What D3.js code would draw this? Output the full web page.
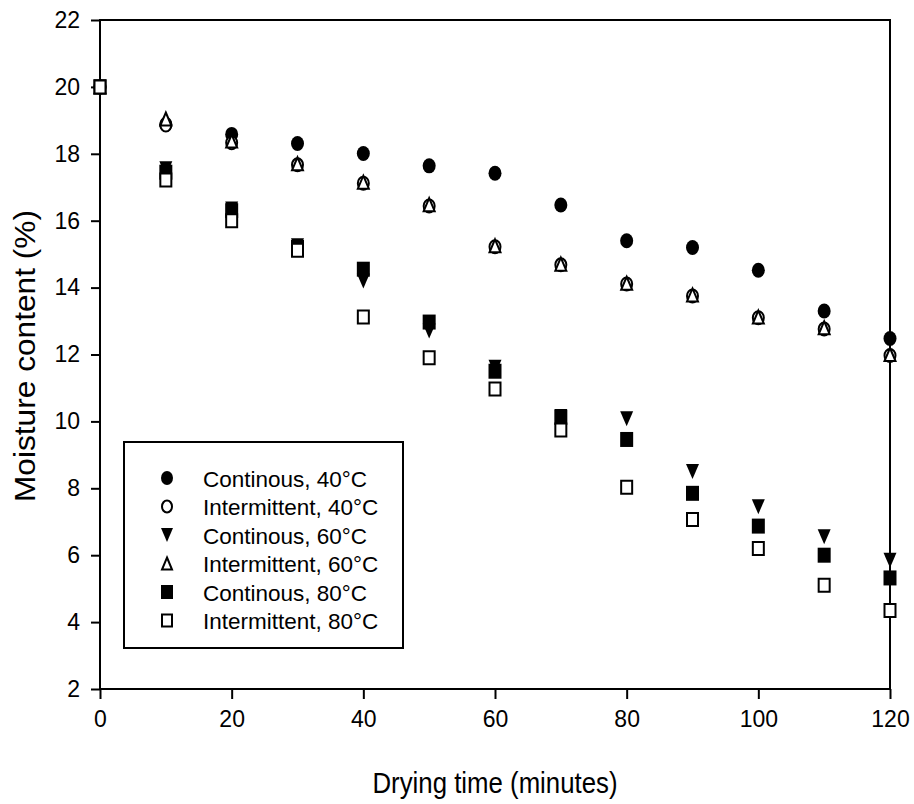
<!DOCTYPE html>
<html>
<head>
<meta charset="utf-8">
<script src="https://cdn.jsdelivr.net/npm/d3@7"></script>
<style>
  body { margin: 0; background: #fff; }
  text { font-family: "Liberation Sans", Arial, sans-serif; fill: #000; }
</style>
</head>
<body>
<script>
// drying time (minutes)
var times = [0, 10, 20, 30, 40, 50, 60, 70, 80, 90, 100, 110, 120]

// moisture content (%)
var cont40 = [20, 18.88, 18.58, 18.31, 18.01, 17.64, 17.42, 16.47, 15.4, 15.2, 14.52, 13.3, 12.48]
var int40  = [20, 18.86, 18.33, 17.67, 17.12, 16.44, 15.22, 14.68, 14.11, 13.75, 13.1, 12.76, 11.97]
var cont60 = [20, 17.55, 16.35, 15.25, 14.2, 12.7, 11.62, 10.15, 10.08, 8.5, 7.45, 6.55, 5.85]
var int60  = [20, 19.04, 18.38, 17.7, 17.15, 16.48, 15.25, 14.7, 14.13, 13.78, 13.12, 12.8, 12.0]
var cont80 = [20, 17.45, 16.3, 15.2, 14.55, 12.97, 11.5, 10.12, 9.46, 7.85, 6.87, 6.0, 5.32]
var int80  = [20, 17.22, 16.0, 15.12, 13.12, 11.9, 10.97, 9.74, 8.03, 7.07, 6.2, 5.1, 4.35]

var seriesNames = ["Continous, 40°C", "Intermittent, 40°C", "Continous, 60°C",
                   "Intermittent, 60°C", "Continous, 80°C", "Intermittent, 80°C"]
var seriesShapes = ["circle", "circle", "down", "up", "square", "square"]
var seriesFilled = [true, false, true, false, true, false]
var seriesValues = [cont40, int40, cont60, int60, cont80, int80]

var xTicks = [0, 20, 40, 60, 80, 100, 120]
var yTicks = [2, 4, 6, 8, 10, 12, 14, 16, 18, 20, 22]

var width = 914, height = 804
var plotLeft = 100, plotRight = 890, plotTop = 20, plotBottom = 689

var svg = d3.select("body").append("svg")
  .attr("width", width).attr("height", height)

var x = d3.scaleLinear().domain([0, 120]).range([plotLeft, plotRight])
var y = d3.scaleLinear().domain([2, 22]).range([plotBottom, plotTop])

// marker path centred on its bounding box, w x h outer size
function markerPath(shape, w, h) {
  var a = w / 2, b = h / 2
  if (shape == "circle") {
    return "M" + (-a) + ",0A" + a + "," + b + " 0 1,0 " + a + ",0A" + a + "," + b + " 0 1,0 " + (-a) + ",0Z"
  }
  if (shape == "square") {
    return "M" + (-a) + "," + (-b) + "H" + a + "V" + b + "H" + (-a) + "Z"
  }
  if (shape == "down") {
    return "M" + (-a) + "," + (-b) + "H" + a + "L0," + b + "Z"
  }
  return "M0," + (-b) + "L" + a + "," + b + "H" + (-a) + "Z"
}

function drawMarker(g, shape, filled, w, h) {
  if (filled) {
    g.append("path").attr("d", markerPath(shape, w, h)).attr("fill", "#000")
  } else {
    g.append("path").attr("d", markerPath(shape, w - 2, h - 2))
      .attr("fill", "#fff").attr("stroke", "#000").attr("stroke-width", 2)
  }
}

// axes (ticks only, frame drawn separately)
var yAxis = svg.append("g").attr("transform", "translate(" + plotLeft + ",0)")
  .call(d3.axisLeft(y).tickValues(yTicks).tickSize(9).tickPadding(11).tickSizeOuter(0))
yAxis.select(".domain").remove()
yAxis.selectAll("line").attr("stroke-width", 2)
yAxis.selectAll("text").style("font-size", "23px")
  .style("font-family", "'Liberation Sans', Arial, sans-serif")

var xAxis = svg.append("g").attr("transform", "translate(0," + plotBottom + ")")
  .call(d3.axisBottom(x).tickValues(xTicks).tickSize(10).tickPadding(12).tickSizeOuter(0))
xAxis.select(".domain").remove()
xAxis.selectAll("line").attr("stroke-width", 2)
xAxis.selectAll("text").style("font-size", "23px")
  .style("font-family", "'Liberation Sans', Arial, sans-serif")

svg.append("rect")
  .attr("x", plotLeft).attr("y", plotTop)
  .attr("width", plotRight - plotLeft).attr("height", plotBottom - plotTop)
  .attr("fill", "none").attr("stroke", "#000").attr("stroke-width", 2)

// data points
var plot = svg.append("g")
seriesValues.forEach(function(vals, i) {
  vals.forEach(function(v, j) {
    var g = plot.append("g").attr("transform", "translate(" + x(times[j]) + "," + y(v) + ")")
    drawMarker(g, seriesShapes[i], seriesFilled[i], 13, 15)
  })
})

// axis titles
svg.append("text")
  .attr("x", (plotLeft + plotRight) / 2).attr("y", 793)
  .attr("text-anchor", "middle")
  .attr("textLength", 245).attr("lengthAdjust", "spacingAndGlyphs")
  .style("font-size", "29px")
  .text("Drying time (minutes)")

svg.append("text")
  .attr("transform", "translate(35,356) rotate(-90)")
  .attr("text-anchor", "middle")
  .attr("textLength", 292).attr("lengthAdjust", "spacingAndGlyphs")
  .style("font-size", "29px")
  .text("Moisture content (%)")

// legend
var legend = svg.append("g")
legend.append("rect")
  .attr("x", 124).attr("y", 442).attr("width", 279).attr("height", 206)
  .attr("fill", "#fff").attr("stroke", "#000").attr("stroke-width", 2)

seriesNames.forEach(function(name, i) {
  var cy = 478 + i * 28.5
  var g = legend.append("g").attr("transform", "translate(167," + cy + ")")
  drawMarker(g, seriesShapes[i], seriesFilled[i], 12, 14)
  legend.append("text")
    .attr("x", 203).attr("y", cy + 8.5)
    .style("font-size", "22.5px")
    .text(name)
})
</script>
</body>
</html>
